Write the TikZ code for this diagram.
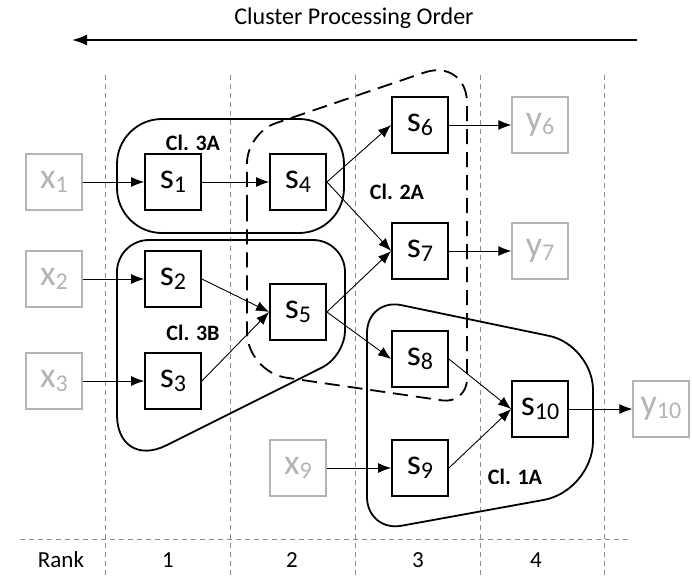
\documentclass[tikz,border=0pt]{standalone}
\usepackage{fontspec}
\setmainfont{Carlito}
\usetikzlibrary{arrows.meta,positioning}

\definecolor{lgray}{HTML}{B4B4B4}
\definecolor{gridgray}{HTML}{8C8C8C}

\newcommand{\lb}[2]{#1\raisebox{-4pt}{\fontsize{24}{24}\selectfont #2}}

\tikzset{
  sbox/.style={draw, line width=1.8pt, minimum size=56pt, inner sep=0pt, font=\fontsize{36}{36}\selectfont},
  gbox/.style={sbox, draw=lgray, text=lgray, line width=1.4pt},
  edge/.style={line width=0.9pt, -{Latex[length=13pt,width=10pt]}},
  cluster/.style={line width=1.8pt},
  rankline/.style={gridgray, line width=1pt, dash pattern=on 5pt off 4pt},
  cllabel/.style={font=\fontsize{22}{22}\selectfont\bfseries},
  ranklabel/.style={font=\fontsize{23}{23}\selectfont}
}

\begin{document}
\begin{tikzpicture}[x=1pt,y=-1pt]
		\useasboundingbox (0,0) rectangle (692,577);

		% rank grid
		\foreach \xx in {105,230,355,480,604}
			\draw[rankline] (\xx,75) -- (\xx,577);
		\draw[rankline] (20,539) -- (630,539);
		\node[ranklabel] (rank) at (61,560) {Rank};
		\node[ranklabel] (r1) at (168,560) {1};
		\node[ranklabel] (r2) at (292,560) {2};
		\node[ranklabel] (r3) at (418,560) {3};
		\node[ranklabel] (r4) at (536,560) {4};

		% processing order
		\node[font=\fontsize{24}{24}\selectfont] (title) at (354,18) {Cluster Processing Order};
		\coordinate (ostart) at (637,40);
		\coordinate (oend) at (72,40);
		\draw[line width=1.8pt, -{Latex[length=15pt,width=11pt]}] (ostart) -- (oend);

		% clusters
		\draw[cluster, rounded corners=45pt] (117,119) rectangle (344,233);
		\draw[cluster, rounded corners=32pt] (117,356) -- (117,240) -- (345,240) [rounded corners=25pt] -- (345,356) [rounded corners=55pt] -- (117,470) -- cycle;
		\draw[line width=1.8pt, dash pattern=on 15pt off 8pt, rounded corners=30pt]
			(247,250) -- (247,133) [rounded corners=45pt] -- (467,58) [rounded corners=25pt] -- (467,404) [rounded corners=40pt] -- (247,372) -- cycle;
		\draw[cluster, rounded corners=35pt] (367,420) -- (367,298) [rounded corners=45pt] -- (593,345) [rounded corners=50pt] -- (593,491) [rounded corners=35pt] -- (367,532) -- cycle;

		\node[cllabel] (cl3a) at (193,143) {Cl. 3A};
		\node[cllabel] (cl3b) at (193,333) {Cl. 3B};
		\node[cllabel] (cl2a) at (397,192) {Cl. 2A};
		\node[cllabel] (cl1a) at (515,477) {Cl. 1A};

		% inputs and outputs
		\node[gbox] (x1) at (54,182) {\lb{x}{1}};
		\node[gbox] (x2) at (54,279) {\lb{x}{2}};
		\node[gbox] (x3) at (54,381) {\lb{x}{3}};
		\node[gbox] (x9) at (298,468) {\lb{x}{9}};
		\node[gbox] (y6) at (540,125) {\lb{y}{6}};
		\node[gbox] (y7) at (540,251) {\lb{y}{7}};
		\node[gbox] (y10) at (661,409) {\lb{y}{10}};

		% stages
		\node[sbox] (s1) at (173,182) {\lb{s}{1}};
		\node[sbox] (s2) at (173,279) {\lb{s}{2}};
		\node[sbox] (s3) at (173,381) {\lb{s}{3}};
		\node[sbox] (s4) at (298,182) {\lb{s}{4}};
		\node[sbox] (s5) at (298,312) {\lb{s}{5}};
		\node[sbox] (s6) at (420,125) {\lb{s}{6}};
		\node[sbox] (s7) at (420,251) {\lb{s}{7}};
		\node[sbox] (s8) at (420,359) {\lb{s}{8}};
		\node[sbox] (s9) at (420,468) {\lb{s}{9}};
		\node[sbox] (s10) at (540,409) {\lb{s}{10}};

		\draw[edge] (x1) -- (s1);
		\draw[edge] (x2) -- (s2);
		\draw[edge] (x3) -- (s3);
		\draw[edge] (x9) -- (s9);
		\draw[edge] (s1) -- (s4);
		\draw[edge] (s2.east) -- (s5.west);
		\draw[edge] (s3.east) -- (s5.west);
		\draw[edge] (s4.east) -- (s6.west);
		\draw[edge] (s4.east) -- (s7.west);
		\draw[edge] (s5.east) -- (s7.west);
		\draw[edge] (s5.east) -- (s8.west);
		\draw[edge] (s8.east) -- (s10.west);
		\draw[edge] (s9.east) -- (s10.west);
		\draw[edge] (s6) -- (y6);
		\draw[edge] (s7) -- (y7);
		\draw[edge] (s10) -- (y10);
	\end{tikzpicture}
\end{document}
